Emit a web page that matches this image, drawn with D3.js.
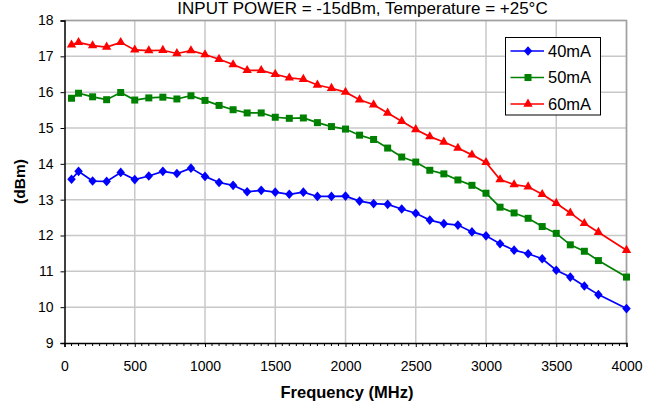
<!DOCTYPE html>
<html><head><meta charset="utf-8">
<script src="https://cdn.jsdelivr.net/npm/d3@7"></script>
<style>body{margin:0;background:#fff}svg{display:block;font-family:"Liberation Sans",Arial,sans-serif}</style>
</head><body><svg id="c" width="659" height="407"></svg>
<script>
const freqs = [50,100,200,300,400,500,600,700,800,900,1000,1100,1200,1300,1400,1500,1600,1700,1800,1900,2000,2100,2200,2300,2400,2500,2600,2700,2800,2900,3000,3100,3200,3300,3400,3500,3600,3700,3800,4000];
const s40 = [13.57,13.79,13.52,13.51,13.76,13.56,13.66,13.79,13.73,13.88,13.65,13.48,13.40,13.22,13.26,13.21,13.15,13.21,13.09,13.09,13.10,12.96,12.89,12.87,12.74,12.62,12.43,12.33,12.29,12.10,11.99,11.77,11.59,11.49,11.35,11.03,10.84,10.59,10.35,9.96];
const s50 = [15.83,15.97,15.87,15.79,15.99,15.78,15.84,15.86,15.81,15.90,15.77,15.63,15.51,15.42,15.42,15.30,15.27,15.28,15.15,15.04,14.97,14.80,14.68,14.44,14.19,14.05,13.82,13.72,13.55,13.40,13.18,12.79,12.63,12.48,12.25,12.06,11.74,11.56,11.30,10.84];
const s60 = [17.32,17.39,17.30,17.26,17.39,17.18,17.16,17.17,17.08,17.16,17.05,16.92,16.77,16.61,16.61,16.50,16.40,16.36,16.20,16.11,16.00,15.79,15.65,15.42,15.19,14.96,14.76,14.61,14.44,14.25,14.04,13.56,13.42,13.36,13.15,12.90,12.63,12.34,12.09,11.59];
const seriesNames = ["40mA","50mA","60mA"];
const colors = ["#0000ff","#008000","#ff0000"];
const xTicks = [0,500,1000,1500,2000,2500,3000,3500,4000];
const yTicks = [9,10,11,12,13,14,15,16,17,18];
const title = "INPUT POWER = -15dBm, Temperature = +25\u00B0C";
const xTitle = "Frequency (MHz)";
const yTitle = "(dBm)";

const diamond = {draw(ctx,size){const r=Math.sqrt(size/2);ctx.moveTo(0,-r*1.08);ctx.lineTo(r*0.95,0);ctx.lineTo(0,r*1.08);ctx.lineTo(-r*0.95,0);ctx.closePath();}};
const symbols = [diamond, d3.symbolSquare, d3.symbolTriangle];
const sizes = [40,49,38];

const svg = d3.select("#c");
const L=64.5, R=626.5, T=20.5, B=343;
const x = d3.scaleLinear().domain([0,4000]).range([L,R]);
const y = d3.scaleLinear().domain([9,18]).range([B,T]);
const FF = "Liberation Sans, Arial, sans-serif";

// gridlines
svg.append("g").selectAll("line").data(xTicks.slice(1)).join("line")
  .attr("x1",d=>x(d)).attr("x2",d=>x(d)).attr("y1",T).attr("y2",B)
  .attr("stroke","#c8c8c8").attr("stroke-width",1.5);
svg.append("g").selectAll("line").data(yTicks.slice(1)).join("line")
  .attr("x1",L).attr("x2",R).attr("y1",d=>y(d)).attr("y2",d=>y(d))
  .attr("stroke","#c8c8c8").attr("stroke-width",1.5);
svg.append("path").attr("d",`M${L},${T}H${R}V${B}`).attr("fill","none").attr("stroke","#a0a0a0").attr("stroke-width",1.5);

// axes
const xAxis = d3.axisBottom(x).tickValues(xTicks).tickSize(4).tickPadding(14).tickFormat(d3.format("d"));
const gx = svg.append("g").attr("transform",`translate(0,${B})`).call(xAxis);
const minor = d3.range(0,4001,50).filter(d=>d%500!==0);
gx.append("g").selectAll("line").data(minor).join("line")
  .attr("x1",d=>x(d)).attr("x2",d=>x(d)).attr("y1",0).attr("y2",3).attr("stroke","#000");
const yAxis = d3.axisLeft(y).tickValues(yTicks).tickSize(4).tickPadding(7);
const gy = svg.append("g").attr("transform",`translate(${L},0)`).call(yAxis);
[gx,gy].forEach(g=>{
  g.select(".domain").attr("stroke","#000").attr("stroke-width",1.5);
  g.selectAll(".tick line").attr("stroke","#000");
  g.selectAll("text").attr("font-size",14).attr("fill","#000").attr("font-family",FF);
});

// series
const all=[s40,s50,s60];
const line = d3.line().x((d,i)=>x(freqs[i])).y(d=>y(d));
all.forEach((s,k)=>{
  const g = svg.append("g");
  g.append("path").datum(s).attr("d",line).attr("fill","none").attr("stroke",colors[k]).attr("stroke-width",1.7);
  g.selectAll("path.m").data(s).join("path").attr("class","m")
    .attr("d",d3.symbol().type(symbols[k]).size(sizes[k]))
    .attr("transform",(d,i)=>`translate(${x(freqs[i])},${y(d)})`)
    .attr("fill",colors[k]);
});

// legend
const lg = svg.append("g");
lg.append("rect").attr("x",505.5).attr("y",37.5).attr("width",95).attr("height",77.5)
  .attr("fill","#fff").attr("stroke","#000").attr("stroke-width",1);
seriesNames.forEach((n,k)=>{
  const yy = 51 + k*26.5;
  lg.append("line").attr("x1",510.5).attr("x2",544).attr("y1",yy).attr("y2",yy).attr("stroke",colors[k]).attr("stroke-width",1.7);
  lg.append("path").attr("d",d3.symbol().type(symbols[k]).size(sizes[k])).attr("transform",`translate(528,${yy})`).attr("fill",colors[k]);
  lg.append("text").attr("x",548).attr("y",yy+5.5).attr("font-size",16.5).text(n);
});

// titles
svg.append("text").attr("x",362.5).attr("y",14).attr("text-anchor","middle").attr("font-size",17).text(title);
svg.append("text").attr("x",347).attr("y",398).attr("text-anchor","middle").attr("font-size",16.5).attr("font-weight","bold").text(xTitle);
svg.append("text").attr("transform","translate(25,181.5) rotate(-90)").attr("text-anchor","middle").attr("font-size",15.5).attr("font-weight","bold").text(yTitle);
</script></body></html>
